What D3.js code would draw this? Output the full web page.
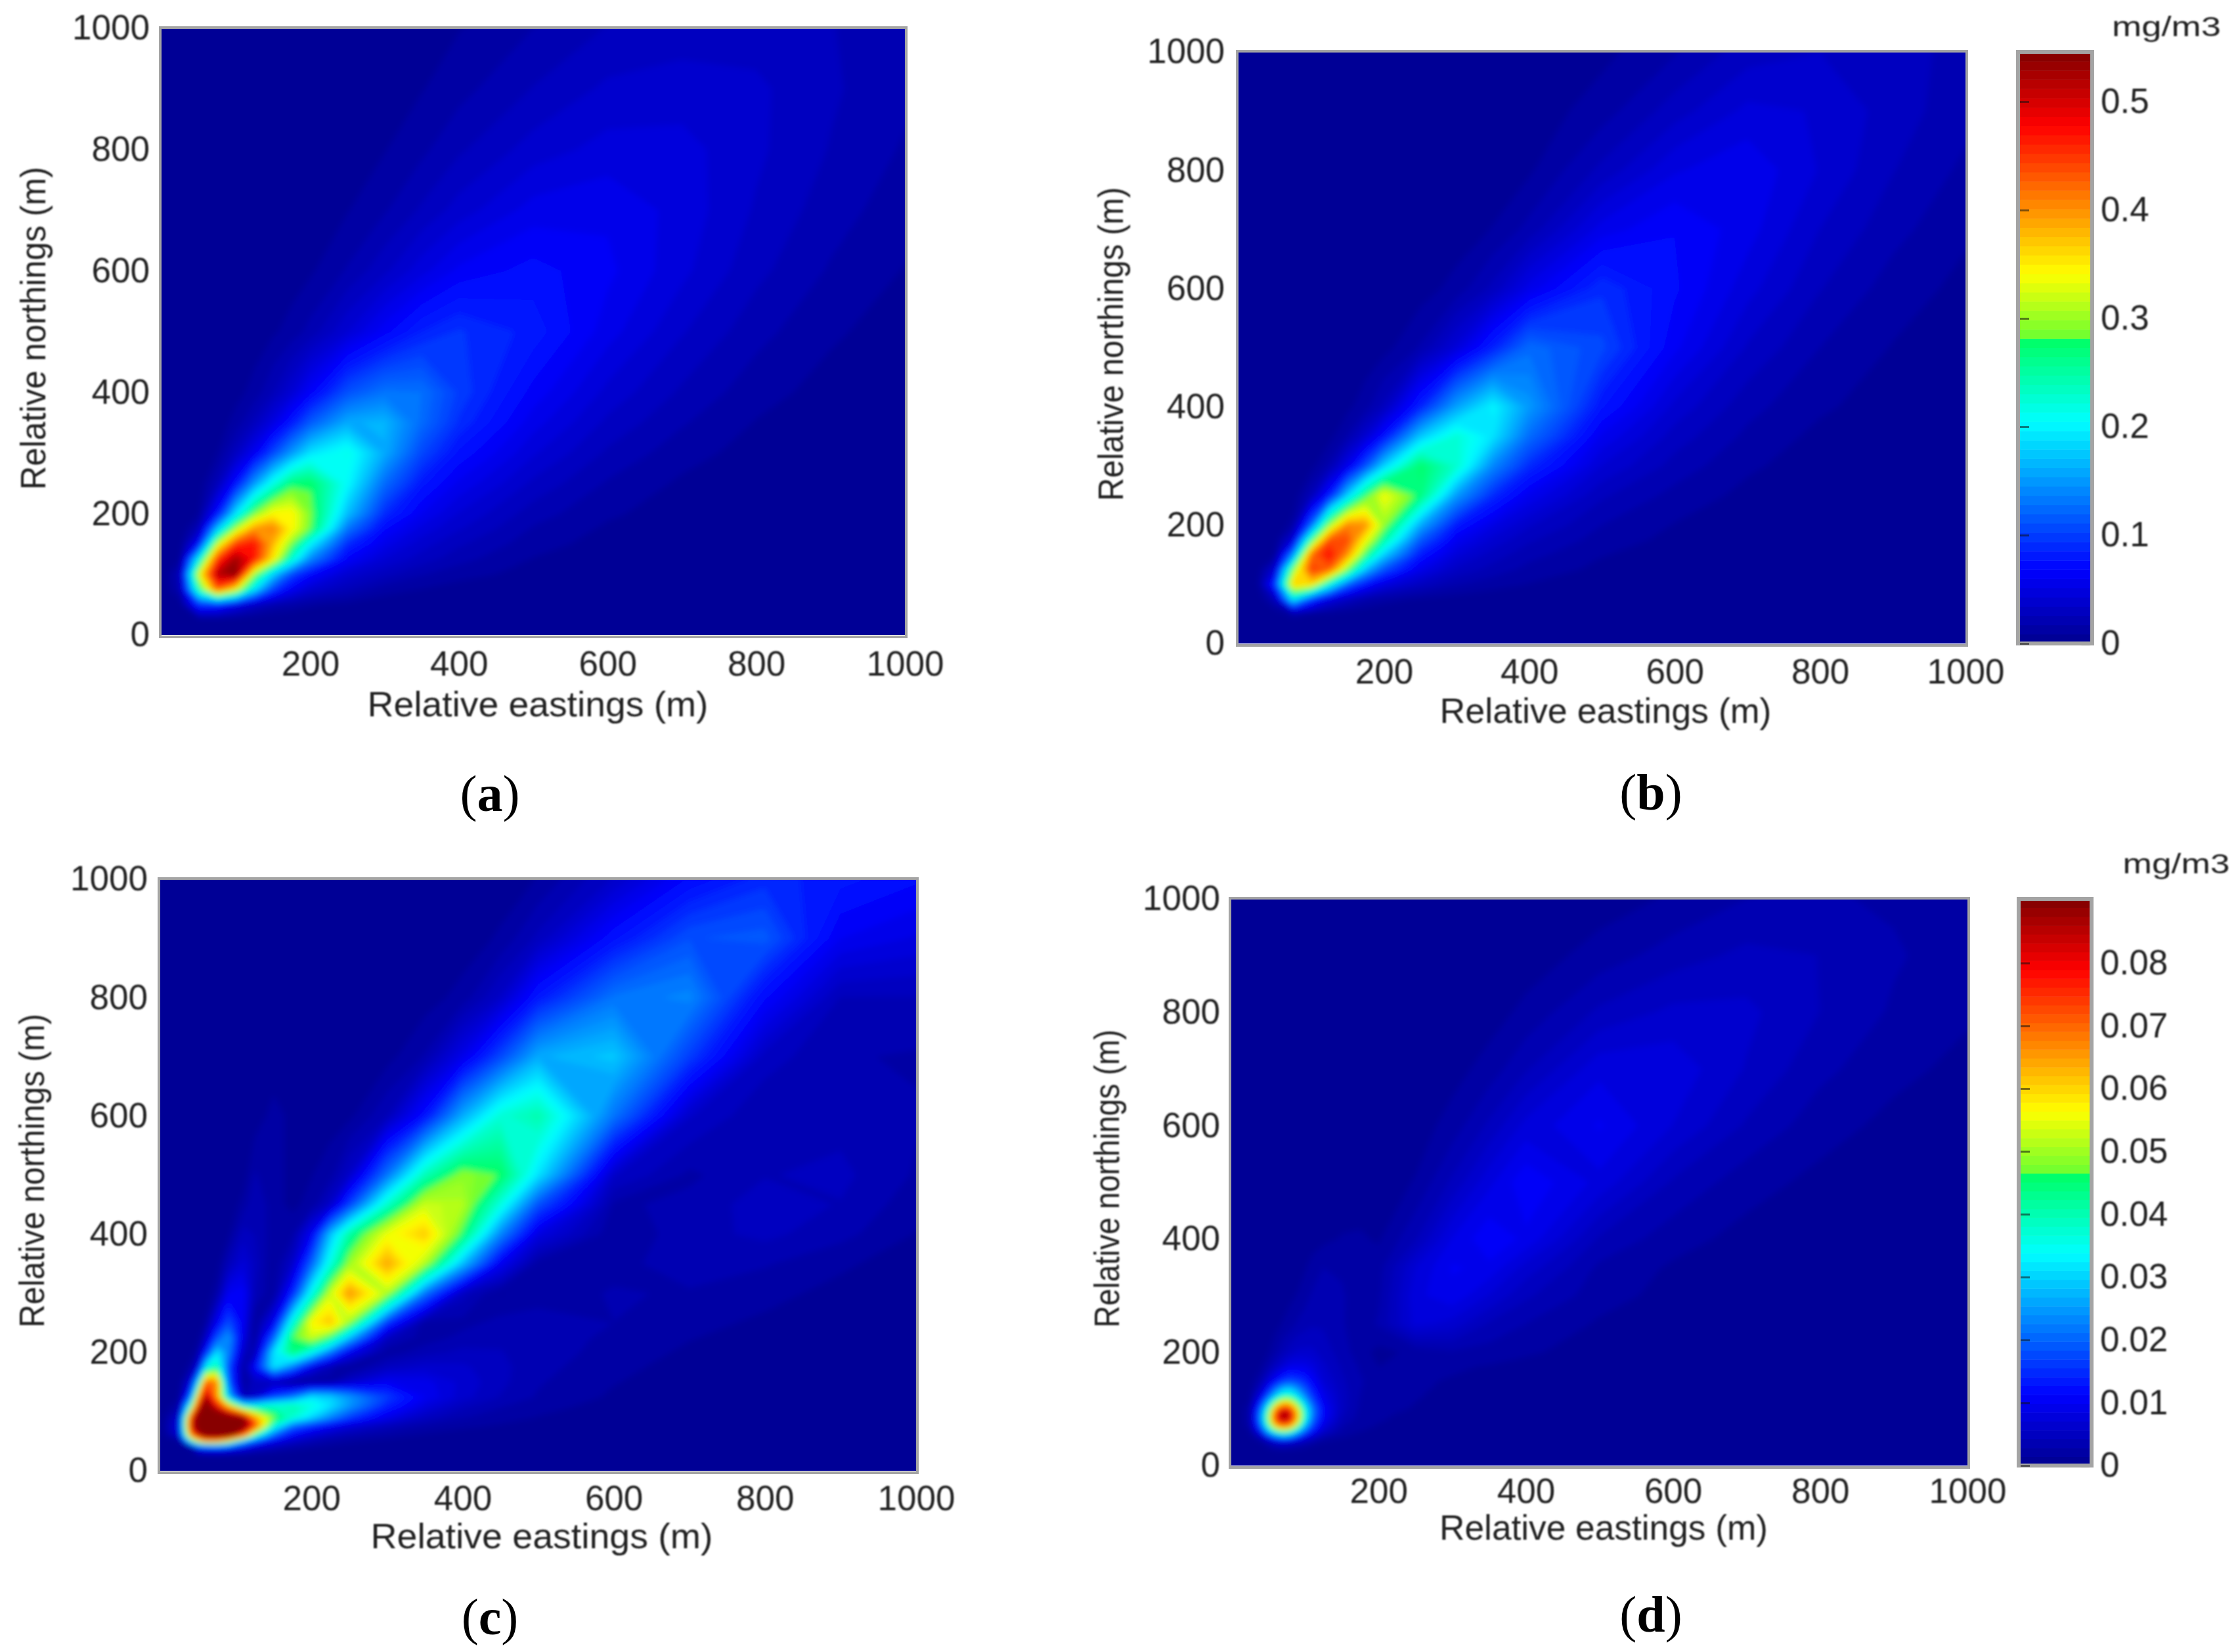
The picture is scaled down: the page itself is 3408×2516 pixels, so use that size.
<!DOCTYPE html>
<html>
<head>
<meta charset="utf-8">
<title>Relative concentration maps</title>
<script src="https://cdn.jsdelivr.net/npm/d3@7"></script>
<style>
  html, body { margin: 0; padding: 0; background: #fff; }
  svg { display: block; }
  text { font-family: "Liberation Sans", Arial, sans-serif; fill: #222; }
  .caption text { font-family: "Liberation Serif", serif; fill: #000; }
</style>
</head>
<body>
<div id="chart"></div>
<script>
var width = 3408, height = 2516;

// tick labels
var ticksX = [200, 400, 600, 800, 1000];
var ticksY = [0, 200, 400, 600, 800, 1000];
var cbarTicksB = [0, 0.1, 0.2, 0.3, 0.4, 0.5];
var cbarTicksD = [0, 0.01, 0.02, 0.03, 0.04, 0.05, 0.06, 0.07, 0.08];

// grid nodes (m), finer near the source
var nodesAB = [0, 25, 50, 75, 100, 125, 150, 175, 200, 250, 300, 350, 400, 500, 600, 700, 800, 900, 1000];
var nodesC = [0, 25, 40, 50, 60, 75, 90, 110, 125, 150, 175, 200, 225, 250, 300, 350, 400, 450, 500, 600, 700, 800, 900, 1000];
var nodesD = [0, 25, 40, 50, 60, 70, 80, 90, 100, 110, 125, 150, 175, 200, 250, 300, 350, 400, 500, 600, 700, 800, 900, 1000];

// concentrations, in ug/m3, one row per northing from 0 up.
// rows stop at the last non zero value
var concA = [
  [],
  [0,0,2,3,2,1],
  [0,3,90,85,55,32,20,15,10,6,3,2,1],
  [0,20,250,430,340,190,100,60,40,25,12,8,4,1],
  [0,25,330,520,546,300,180,105,70,40,28,18,12,5,1],
  [0,8,210,450,530,470,350,225,140,65,42,30,20,8,3],
  [0,2,70,320,450,470,380,290,200,90,55,38,27,12,5,1],
  [0,0,25,170,310,400,410,345,285,130,70,48,35,16,7,2],
  [0,0,8,75,190,290,345,345,290,170,90,60,42,21,10,4],
  [0,0,2,25,75,150,215,270,278,205,125,80,58,32,16,7,2],
  [0,0,0,8,30,60,105,150,190,215,160,105,75,44,24,12,5,1],
  [0,0,0,3,12,28,50,80,115,160,165,125,92,55,32,18,8,3],
  [0,0,0,0,5,12,25,42,65,110,130,128,100,65,40,24,12,5,1],
  [0,0,0,0,1,3,7,12,20,42,65,85,95,82,55,35,20,10,4],
  [0,0,0,0,0,0,2,4,7,18,32,48,62,72,62,45,28,16,8],
  [0,0,0,0,0,0,0,1,3,8,16,27,38,55,58,48,33,21,12],
  [0,0,0,0,0,0,0,0,1,4,8,15,24,38,46,46,36,25,16],
  [0,0,0,0,0,0,0,0,0,2,4,8,14,26,36,38,36,27,19],
  [0,0,0,0,0,0,0,0,0,1,2,4,8,17,26,30,30,26,20]
];

var concB = [
  [],
  [],
  [0,0,2,12,8,5,3,2,1],
  [0,0,25,200,100,50,30,18,12,7,4,2,1],
  [0,0,90,370,360,220,120,75,50,30,18,12,8,3,1],
  [0,1,40,290,450,430,290,170,110,55,32,22,14,6,2],
  [0,0,8,140,420,475,400,270,180,80,45,30,20,9,4,1],
  [0,0,2,45,260,440,440,340,250,115,60,40,27,13,6,2],
  [0,0,0,12,120,300,410,400,300,160,80,52,35,17,8,3],
  [0,0,0,2,25,80,180,275,340,270,150,90,58,27,14,6,2],
  [0,0,0,0,5,20,55,110,180,278,230,140,90,42,22,10,4,1],
  [0,0,0,0,1,5,18,40,75,175,225,190,125,58,30,15,6,2],
  [0,0,0,0,0,2,6,14,28,85,155,200,150,78,40,20,10,4,1],
  [0,0,0,0,0,0,0,2,5,18,45,85,125,105,62,33,17,8,3],
  [0,0,0,0,0,0,0,0,1,4,12,28,55,92,70,46,26,13,6],
  [0,0,0,0,0,0,0,0,0,1,3,9,20,55,68,55,34,20,10],
  [0,0,0,0,0,0,0,0,0,0,1,3,7,28,50,58,42,26,15],
  [0,0,0,0,0,0,0,0,0,0,0,1,3,13,30,45,42,30,20],
  [0,0,0,0,0,0,0,0,0,0,0,0,1,6,16,30,34,30,22]
];

var concC = [
  [],
  [0,0,0,2,4,5,4,3,2,1,1],
  [0,0,10,80,90,100,85,60,40,25,15,10,7,5,3,1],
  [0,0,210,330,400,400,330,170,110,60,35,22,14,10,6,3,2],
  [0,40,400,500,560,570,570,440,250,120,65,42,28,20,12,7,4,2,1],
  [0,50,480,570,600,600,600,560,450,220,120,85,60,42,25,15,10,7,4,1],
  [0,40,450,570,600,600,590,550,400,290,230,185,140,100,55,30,18,12,8,3,1],
  [0,15,240,480,570,480,370,220,210,230,245,220,190,150,85,48,28,18,12,5,2],
  [0,5,120,380,530,400,180,20,35,100,130,190,180,150,100,60,38,25,16,7,3,1],
  [0,2,45,190,430,410,120,10,30,25,8,8,15,35,60,55,40,28,18,9,4,2,1],
  [0,0,12,50,200,250,110,10,70,190,130,55,20,8,30,38,36,28,20,11,5,3,1],
  [0,0,3,15,80,190,140,30,20,190,270,210,130,60,12,22,28,26,22,13,7,4,2,1],
  [0,0,0,4,30,110,150,50,8,120,280,320,270,170,30,12,20,24,22,15,9,5,2,1],
  [0,0,0,1,10,60,110,60,8,60,220,345,375,300,95,10,14,20,22,17,11,7,3,1],
  [0,0,0,0,1,14,60,65,25,10,85,210,320,400,310,130,30,8,12,18,16,11,6,2],
  [0,0,0,0,0,3,25,45,30,8,35,120,220,300,390,310,170,60,12,14,22,18,10,4],
  [0,0,0,0,0,0,6,30,25,12,15,60,170,250,335,370,275,140,50,10,22,28,20,8],
  [0,0,0,0,0,0,1,12,25,12,6,12,35,100,230,320,310,220,110,15,20,30,25,12],
  [0,0,0,0,0,0,0,3,18,12,6,8,14,35,130,240,295,280,190,35,15,25,28,16],
  [0,0,0,0,0,0,0,0,3,12,6,2,4,6,25,75,160,225,245,130,35,18,22,18],
  [0,0,0,0,0,0,0,0,0,2,4,6,5,2,5,18,55,105,160,175,100,30,18,16],
  [0,0,0,0,0,0,0,0,0,0,1,2,3,3,1,4,12,35,80,130,140,70,25,25],
  [0,0,0,0,0,0,0,0,0,0,0,0,0,0,0,1,3,10,28,75,110,115,60,50],
  [0,0,0,0,0,0,0,0,0,0,0,0,0,0,0,0,1,3,9,35,70,90,80,70]
];

var concD = [
  [],
  [0,0,0,0.5,0.8,1,0.9,0.7,0.5,0.4,0.2,0.1],
  [0,0,1,3,5,6,5,4,3,2,1,0.5,0.3,0.2,0.1],
  [0,0.5,4,11,18,22,20,14,9,6,3,1.5,0.9,0.6,0.3,0.1],
  [0,1,11,27,40,46,42,30,19,12,6,2.5,1.4,1,0.6,0.3,0.1],
  [0,2,18,40,62,70,66,48,28,17,8,3,1.8,1.3,0.8,0.5,0.2,0.1],
  [0,2,22,47,74,85,80,60,36,20,10,4,2,1.5,1,0.6,0.3,0.2],
  [0,2,22,46,75,90,84,62,38,22,11,4.5,2.3,1.6,1.1,0.7,0.4,0.2,0.1],
  [0,2,19,40,66,80,76,57,36,22,11,5,2.5,1.8,1.3,0.9,0.5,0.3,0.1],
  [0,1.5,14,30,50,62,60,46,30,19,10,5,2.6,1.9,1.4,1,0.6,0.4,0.1],
  [0,1,8,17,28,36,37,30,22,15,9,5,2.8,2,1.5,1.1,0.7,0.5,0.2,0.1],
  [0,0.5,3,7,11,15,17,16,14,11,7,4.5,3,2,1.6,1.3,1,0.7,0.3,0.1],
  [0,0.2,1.2,3,5,7,9,9,9,8,6,4,2.6,1.4,1.5,1.6,1.3,1,0.5,0.2,0.1],
  [0,0.1,0.6,1.3,2.5,4,5,6,6,6,5,3.5,2,0.9,1.8,2.6,2.2,1.6,0.8,0.3,0.1],
  [0,0,0.1,0.4,0.9,1.5,2.2,3,3.6,4,4,3,1.8,3,7.5,6.5,4,2.8,1.2,0.6,0.2,0.1],
  [0,0,0,0.1,0.3,0.6,1,1.5,2.2,3,3.5,3,2,2.5,8,9.5,7,4.5,2,0.9,0.4,0.1],
  [0,0,0,0,0.1,0.2,0.4,0.7,1.2,2,2.8,2.6,1.8,2.2,7,10,9.5,6.5,2.5,1.2,0.5,0.2,0.1],
  [0,0,0,0,0,0,0,0.1,0.3,0.6,1,1.5,1.6,1.2,4,8.5,11,9.5,4,2,0.9,0.4,0.1],
  [0,0,0,0,0,0,0,0,0.1,0.2,0.3,0.4,0.4,0.6,1.5,4.5,8,11,8,4,2,1,0.4,0.1],
  [0,0,0,0,0,0,0,0,0,0,0,0,0.1,0.2,0.6,2,4.5,7.5,10,7,4,2,1,0.5],
  [0,0,0,0,0,0,0,0,0,0,0,0,0,0,0.2,0.8,2,4,8,8,5.5,3.2,1.8,1],
  [0,0,0,0,0,0,0,0,0,0,0,0,0,0,0,0.2,0.7,1.8,4.5,6,6,4.2,2.6,1.6],
  [0,0,0,0,0,0,0,0,0,0,0,0,0,0,0,0,0.1,0.6,2,3.5,4.6,4.2,3,2],
  [0,0,0,0,0,0,0,0,0,0,0,0,0,0,0,0,0,0.1,0.7,1.6,2.8,3,2.6,2]
];

// jet map as printed on the colour bars, with the jump out of green
var cmapStops = [0, 0.125, 0.375, 0.515, 0.52, 0.625, 0.875, 1];
var cmapColors = ["#00008f", "#0000ff", "#00ffff", "#00ff64", "#70ff30", "#ffff00", "#ff0000", "#800000"];
var colorLevels = d3.range(64);

var jet = d3.scaleLinear().domain(cmapStops).range(cmapColors).clamp(true);

// panel frames and text spots, all measured on the reference
var panels = [
  { name: "a", conc: concA, nodes: nodesAB, max: 546, x0: 246, x1: 1378, y0: 967, y1: 43,
    xPad: 24, yPad: 18, xTitle: [819, 1091, 519], yTitle: [69, 500, 492], cap: [746, 1235] },
  { name: "b", conc: concB, nodes: nodesAB, max: 546, x0: 1886, x1: 2993, y0: 980, y1: 79,
    xPad: 23, yPad: 21, xTitle: [2445, 1101, 505], yTitle: [1710, 524, 478], cap: [2514, 1233],
    cbar: { x0: 3076, x1: 3183, ticks: cbarTicksB, max: 0.546, unit: [3299, 55, 166] } },
  { name: "c", conc: concC, nodes: nodesC, max: 546, x0: 244, x1: 1395, y0: 2240, y1: 1339,
    xPad: 22, yPad: 19, xTitle: [825, 2358, 521], yTitle: [67, 1783, 478], cap: [746, 2489] },
  { name: "d", conc: concD, nodes: nodesD, max: 90, x0: 1875, x1: 2996, y0: 2232, y1: 1369,
    xPad: 19, yPad: 17, xTitle: [2442, 2345, 500], yTitle: [1704, 1795, 454], cap: [2514, 2485],
    cbar: { x0: 3077, x1: 3182, ticks: cbarTicksD, max: 0.0902, unit: [3314, 1330, 163] } }
];

var svg = d3.select("#chart").append("svg")
  .attr("width", width)
  .attr("height", height);

var defs = svg.append("defs");
defs.append("filter").attr("id", "softField")
  .attr("x", "-5%").attr("y", "-5%").attr("width", "110%").attr("height", "110%")
  .append("feGaussianBlur").attr("stdDeviation", 5);
defs.append("filter").attr("id", "softText")
  .attr("x", "-10%").attr("y", "-10%").attr("width", "120%").attr("height", "120%")
  .append("feGaussianBlur").attr("stdDeviation", 1.1);

panels.forEach(drawPanel);

function drawPanel(p) {
  var g = svg.append("g").attr("class", "panel-" + p.name);
  var n = p.nodes.length;

  var x = d3.scaleLinear().domain([0, 1000]).range([p.x0, p.x1]);
  var y = d3.scaleLinear().domain([0, 1000]).range([p.y0, p.y1]);

  // grid index -> metres, the nodes are not evenly spaced
  var indexToMetres = d3.scaleLinear().domain(d3.range(n)).range(p.nodes);

  var values = [];
  p.conc.forEach(function(row) {
    for (var i = 0; i < n; i++) values.push(row[i] || 0);
  });

  var thresholds = colorLevels.map(function(l) { return p.max * l / colorLevels.length; });
  var contours = d3.contours().size([n, n]).thresholds(thresholds)(values);

  var path = d3.geoPath(d3.geoTransform({
    point: function(cx, cy) {
      this.stream.point(x(indexToMetres(cx - 0.5)), y(indexToMetres(cy - 0.5)));
    }
  }));

  var clipId = "clip-" + p.name;
  defs.append("clipPath").attr("id", clipId).append("rect")
    .attr("x", p.x0).attr("y", p.y1)
    .attr("width", p.x1 - p.x0).attr("height", p.y0 - p.y1);

  var field = g.append("g").attr("clip-path", "url(#" + clipId + ")");
  field.append("rect")
    .attr("x", p.x0 - 20).attr("y", p.y1 - 20)
    .attr("width", p.x1 - p.x0 + 40).attr("height", p.y0 - p.y1 + 40)
    .attr("fill", jet(0));
  field.append("g").attr("filter", "url(#softField)")
    .selectAll("path")
    .data(contours)
    .enter().append("path")
    .attr("d", path)
    .attr("fill", function(d, i) { return jet((i + 0.5) / colorLevels.length); });

  // frame
  g.append("rect")
    .attr("x", p.x0 - 2).attr("y", p.y1 - 1)
    .attr("width", p.x1 - p.x0 + 4).attr("height", p.y0 - p.y1 + 4)
    .attr("fill", "none")
    .attr("stroke", "#a4a4a4")
    .attr("stroke-width", 4);

  var labels = g.append("g").attr("filter", "url(#softText)");

  var xAxis = labels.append("g")
    .attr("transform", "translate(0," + p.y0 + ")")
    .call(d3.axisBottom(x).tickValues(ticksX).tickSize(0).tickPadding(p.xPad).tickFormat(d3.format("d")));
  var yAxis = labels.append("g")
    .attr("transform", "translate(" + p.x0 + ",0)")
    .call(d3.axisLeft(y).tickValues(ticksY).tickSize(0).tickPadding(p.yPad).tickFormat(d3.format("d")));
  [xAxis, yAxis].forEach(function(a) {
    a.attr("font-size", null).attr("font-family", null);
    a.select(".domain").remove();
    a.selectAll("text").style("font-size", "53px");
  });

  labels.append("text")
    .attr("x", p.xTitle[0]).attr("y", p.xTitle[1])
    .attr("text-anchor", "middle")
    .attr("textLength", p.xTitle[2]).attr("lengthAdjust", "spacingAndGlyphs")
    .style("font-size", "53px")
    .text("Relative eastings (m)");

  labels.append("text")
    .attr("transform", "translate(" + p.yTitle[0] + "," + p.yTitle[1] + ") rotate(-90)")
    .attr("text-anchor", "middle")
    .attr("textLength", p.yTitle[2]).attr("lengthAdjust", "spacingAndGlyphs")
    .style("font-size", "53px")
    .text("Relative northings (m)");

  // (a) caption, only the letter is bold
  var cap = g.append("g").attr("class", "caption").append("text")
    .attr("x", p.cap[0]).attr("y", p.cap[1])
    .attr("text-anchor", "middle")
    .style("font-size", "78px");
  cap.append("tspan").text("(");
  cap.append("tspan").attr("font-weight", "bold").text(p.name);
  cap.append("tspan").text(")");

  if (p.cbar) drawColorbar(g, labels, p);
}

function drawColorbar(g, labels, p) {
  var c = p.cbar;
  var y = d3.scaleLinear().domain([0, c.max]).range([p.y0, p.y1]);
  var step = c.max / colorLevels.length;

  g.append("g").selectAll("rect")
    .data(colorLevels)
    .enter().append("rect")
    .attr("x", c.x0)
    .attr("width", c.x1 - c.x0)
    .attr("y", function(d) { return y((d + 1) * step); })
    .attr("height", function(d) { return y(d * step) - y((d + 1) * step) + 0.5; })
    .attr("fill", function(d) { return jet((d + 0.5) / colorLevels.length); });

  g.append("rect")
    .attr("x", c.x0 - 3).attr("y", p.y1)
    .attr("width", c.x1 - c.x0 + 6).attr("height", p.y0 - p.y1)
    .attr("fill", "none")
    .attr("stroke", "#a4a4a4")
    .attr("stroke-width", 6);

  var format = function(d) { return String(d); };
  var right = labels.append("g")
    .attr("transform", "translate(" + c.x1 + ",0)")
    .call(d3.axisRight(y).tickValues(c.ticks).tickSize(-14).tickPadding(16).tickFormat(format));
  var left = g.append("g")
    .attr("transform", "translate(" + c.x0 + ",0)")
    .call(d3.axisLeft(y).tickValues(c.ticks).tickSize(-14).tickFormat(""));
  [right, left].forEach(function(a) {
    a.attr("font-size", null).attr("font-family", null);
    a.select(".domain").remove();
    a.selectAll("line").attr("stroke", "#111").attr("stroke-opacity", 0.55).attr("stroke-width", 3);
  });
  right.selectAll("text").style("font-size", "53px");

  labels.append("text")
    .attr("x", c.unit[0]).attr("y", c.unit[1])
    .attr("text-anchor", "middle")
    .attr("textLength", c.unit[2]).attr("lengthAdjust", "spacingAndGlyphs")
    .style("font-size", "42px")
    .text("mg/m3");
}
</script>
</body>
</html>
